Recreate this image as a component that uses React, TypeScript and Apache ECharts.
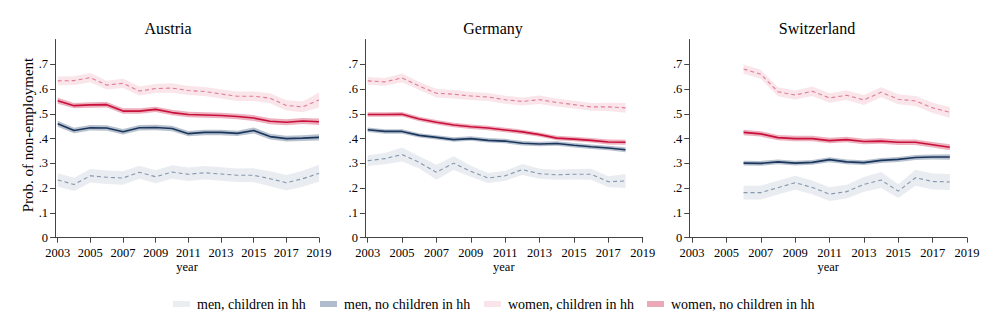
import React, { useEffect, useRef } from "react";
import * as echarts from "echarts";

const FONT = "Liberation Serif, Times New Roman, serif";

const countries = ["Austria", "Germany", "Switzerland"];
const seriesNames = ["men, children in hh", "men, no children in hh", "women, children in hh", "women, no children in hh"];
const xTickYears = [2003, 2005, 2007, 2009, 2011, 2013, 2015, 2017, 2019];
const yTicks = [0, 0.1, 0.2, 0.3, 0.4, 0.5, 0.6, 0.7];

// Austria 2003-2019
const atYears = [2003, 2004, 2005, 2006, 2007, 2008, 2009, 2010, 2011, 2012, 2013, 2014, 2015, 2016, 2017, 2018, 2019];
const atMenChild = [0.233, 0.215, 0.25, 0.244, 0.241, 0.264, 0.246, 0.265, 0.256, 0.262, 0.257, 0.252, 0.252, 0.238, 0.222, 0.238, 0.26];
const atMenChildCI = [0.027, 0.027, 0.027, 0.027, 0.027, 0.026, 0.026, 0.027, 0.027, 0.027, 0.027, 0.027, 0.028, 0.03, 0.031, 0.032, 0.034];
const atMenNo = [0.46, 0.433, 0.444, 0.443, 0.428, 0.444, 0.445, 0.441, 0.42, 0.425, 0.425, 0.421, 0.433, 0.408, 0.4, 0.402, 0.405];
const atMenNoCI = [0.012, 0.011, 0.011, 0.011, 0.011, 0.011, 0.011, 0.011, 0.011, 0.011, 0.011, 0.011, 0.012, 0.012, 0.012, 0.012, 0.013];
const atWomChild = [0.633, 0.634, 0.646, 0.616, 0.623, 0.592, 0.602, 0.604, 0.594, 0.59, 0.58, 0.571, 0.571, 0.563, 0.534, 0.528, 0.556];
const atWomChildCI = [0.018, 0.018, 0.019, 0.018, 0.019, 0.018, 0.018, 0.019, 0.018, 0.018, 0.018, 0.019, 0.019, 0.02, 0.021, 0.022, 0.03];
const atWomNo = [0.553, 0.533, 0.536, 0.537, 0.511, 0.511, 0.518, 0.505, 0.497, 0.495, 0.493, 0.489, 0.483, 0.47, 0.466, 0.471, 0.468];
const atWomNoCI = [0.012, 0.011, 0.011, 0.011, 0.011, 0.011, 0.011, 0.011, 0.011, 0.011, 0.011, 0.011, 0.012, 0.012, 0.012, 0.012, 0.013];

// Germany 2003-2018
const deYears = [2003, 2004, 2005, 2006, 2007, 2008, 2009, 2010, 2011, 2012, 2013, 2014, 2015, 2016, 2017, 2018];
const deMenChild = [0.311, 0.319, 0.336, 0.304, 0.264, 0.301, 0.268, 0.241, 0.25, 0.275, 0.258, 0.254, 0.256, 0.256, 0.226, 0.229];
const deMenChildCI = [0.022, 0.023, 0.028, 0.025, 0.03, 0.028, 0.022, 0.02, 0.02, 0.022, 0.02, 0.02, 0.021, 0.022, 0.022, 0.028];
const deMenNo = [0.436, 0.429, 0.429, 0.413, 0.405, 0.396, 0.4, 0.393, 0.39, 0.381, 0.378, 0.38, 0.373, 0.367, 0.362, 0.355];
const deMenNoCI = [0.009, 0.009, 0.009, 0.009, 0.009, 0.009, 0.009, 0.009, 0.009, 0.009, 0.009, 0.009, 0.009, 0.009, 0.009, 0.01];
const deWomChild = [0.633, 0.629, 0.645, 0.612, 0.583, 0.579, 0.572, 0.568, 0.557, 0.55, 0.557, 0.546, 0.537, 0.528, 0.528, 0.524];
const deWomChildCI = [0.016, 0.016, 0.018, 0.016, 0.017, 0.017, 0.016, 0.016, 0.016, 0.016, 0.017, 0.016, 0.016, 0.016, 0.017, 0.02];
const deWomNo = [0.497, 0.497, 0.498, 0.479, 0.466, 0.455, 0.448, 0.443, 0.435, 0.427, 0.416, 0.402, 0.398, 0.393, 0.386, 0.385];
const deWomNoCI = [0.009, 0.009, 0.009, 0.009, 0.009, 0.009, 0.009, 0.009, 0.009, 0.009, 0.009, 0.009, 0.009, 0.009, 0.01, 0.01];

// Switzerland 2006-2018
const chYears = [2006, 2007, 2008, 2009, 2010, 2011, 2012, 2013, 2014, 2015, 2016, 2017, 2018];
const chMenChild = [0.182, 0.182, 0.202, 0.222, 0.203, 0.176, 0.186, 0.215, 0.233, 0.188, 0.242, 0.227, 0.225];
const chMenChildCI = [0.028, 0.028, 0.028, 0.028, 0.028, 0.028, 0.028, 0.03, 0.032, 0.028, 0.032, 0.032, 0.032];
const chMenNo = [0.301, 0.3, 0.306, 0.301, 0.304, 0.315, 0.306, 0.303, 0.312, 0.316, 0.324, 0.326, 0.326];
const chMenNoCI = [0.01, 0.01, 0.01, 0.01, 0.01, 0.01, 0.01, 0.01, 0.01, 0.01, 0.01, 0.01, 0.011];
const chWomChild = [0.681, 0.66, 0.589, 0.576, 0.591, 0.564, 0.575, 0.556, 0.587, 0.559, 0.552, 0.524, 0.506];
const chWomChildCI = [0.018, 0.018, 0.018, 0.018, 0.019, 0.019, 0.019, 0.02, 0.02, 0.02, 0.02, 0.021, 0.022];
const chWomNo = [0.425, 0.419, 0.404, 0.4, 0.4, 0.392, 0.396, 0.388, 0.39, 0.385, 0.385, 0.375, 0.365];
const chWomNoCI = [0.011, 0.011, 0.011, 0.011, 0.011, 0.011, 0.011, 0.011, 0.011, 0.011, 0.011, 0.011, 0.012];

const panels = [
  { years: atYears, means: [atMenChild, atMenNo, atWomChild, atWomNo], cis: [atMenChildCI, atMenNoCI, atWomChildCI, atWomNoCI] },
  { years: deYears, means: [deMenChild, deMenNo, deWomChild, deWomNo], cis: [deMenChildCI, deMenNoCI, deWomChildCI, deWomNoCI] },
  { years: chYears, means: [chMenChild, chMenNo, chWomChild, chWomNo], cis: [chMenChildCI, chMenNoCI, chWomChildCI, chWomNoCI] },
];

const bandColors = ["rgba(132,151,173,0.18)", "rgba(40,70,110,0.33)", "rgba(226,125,150,0.2)", "rgba(200,16,60,0.33)"];
const legendColors = ["#eaedf1", "#b0bccb", "#f9e4ea", "#e9a9b8"];
const lineColors = ["#8497ad", "#1b365d", "#e27d96", "#c8103a"];
const lineDashed = [true, false, true, false];
const lineWidths = [1.1, 1.6, 1.1, 1.6];

// layout (pixels)
const gridLefts = [55.1, 364.95, 689.25];
const gridWidths = [263.9, 277.75, 277.75];
const titleX = [168, 493, 817];
const GRID_TOP = 39.5;
const GRID_H = 198.2;
const legendBoxX = [173, 320, 484, 647];

export default function App() {
  const ref = useRef<HTMLDivElement>(null);
  useEffect(() => {
    if (!ref.current) return;
    const chart = echarts.init(ref.current, null, { renderer: "svg" });

    const grids: any[] = [];
    const xAxes: any[] = [];
    const yAxes: any[] = [];
    const series: any[] = [];
    const graphics: any[] = [];

    panels.forEach((p, gi) => {
      grids.push({ left: gridLefts[gi], top: GRID_TOP, width: gridWidths[gi], height: GRID_H, containLabel: false });
      xAxes.push({
        type: "value",
        gridIndex: gi,
        min: 2002.84,
        max: 2019,
        axisLine: { show: true, lineStyle: { color: "#444", width: 1 } },
        axisTick: { show: true, length: 5, customValues: xTickYears, lineStyle: { color: "#444" } },
        axisLabel: { customValues: xTickYears, fontFamily: FONT, fontSize: 12.5, color: "#000", margin: 9, formatter: (v: number) => String(v) },
        splitLine: { show: false },
      });
      yAxes.push({
        type: "value",
        gridIndex: gi,
        min: 0,
        max: 0.8,
        interval: 0.1,
        axisLine: { show: true, lineStyle: { color: "#444", width: 1 } },
        axisTick: { show: true, length: 5, customValues: yTicks, lineStyle: { color: "#444" } },
        axisLabel: {
          customValues: yTicks,
          fontFamily: FONT,
          fontSize: 12.5,
          color: "#000",
          margin: 7,
          formatter: (v: number) => (Math.abs(v) < 1e-9 ? "0" : v.toFixed(1).replace(/^0/, "")),
        },
        splitLine: { show: false },
      });

      const order = [0, 2, 1, 3];
      order.forEach((si) => {
        const yrs = p.years;
        const m = p.means[si];
        const c = p.cis[si];
        series.push({
          type: "custom",
          name: seriesNames[si],
          xAxisIndex: gi,
          yAxisIndex: gi,
          itemStyle: { color: legendColors[si] },
          data: [[yrs[0], m[0]]],
          renderItem: (params: any, api: any) => {
            if (params.dataIndex !== 0) return null;
            const pts: number[][] = [];
            for (let i = 0; i < yrs.length; i++) pts.push(api.coord([yrs[i], m[i] + c[i]]));
            for (let i = yrs.length - 1; i >= 0; i--) pts.push(api.coord([yrs[i], m[i] - c[i]]));
            return { type: "polygon", shape: { points: pts }, style: { fill: bandColors[si] } };
          },
          z: 1,
          silent: true,
        });
      });
      order.forEach((si) => {
        series.push({
          type: "line",
          name: "line " + seriesNames[si],
          xAxisIndex: gi,
          yAxisIndex: gi,
          data: p.years.map((y, i) => [y, p.means[si][i]]),
          showSymbol: false,
          symbol: "none",
          lineStyle: { color: lineColors[si], width: lineWidths[si], type: lineDashed[si] ? [4, 3] : "solid" },
          z: 3,
          silent: true,
        });
      });

      graphics.push({
        type: "text",
        x: titleX[gi],
        y: 28,
        style: { text: countries[gi], font: `16px ${FONT}`, fill: "#000", align: "center", verticalAlign: "middle" },
      });
      graphics.push({
        type: "text",
        x: gridLefts[gi] + gridWidths[gi] / 2,
        y: 267,
        style: { text: "year", font: `12.5px ${FONT}`, fill: "#000", align: "center", verticalAlign: "middle" },
      });
    });

    graphics.push({
      type: "text",
      x: 28,
      y: 135,
      rotation: Math.PI / 2,
      style: { text: "Prob. of non-employment", font: `15px ${FONT}`, fill: "#000", align: "center", verticalAlign: "middle" },
    });

    seriesNames.forEach((n, i) => {
      graphics.push({ type: "rect", shape: { x: legendBoxX[i], y: 301, width: 17, height: 6 }, style: { fill: legendColors[i] } });
      graphics.push({
        type: "text",
        x: legendBoxX[i] + 24,
        y: 304.5,
        style: { text: n, font: `14px ${FONT}`, fill: "#000", align: "left", verticalAlign: "middle" },
      });
    });

    chart.setOption({
      animation: false,
      backgroundColor: "#fff",
      textStyle: { fontFamily: FONT },
      grid: grids,
      xAxis: xAxes,
      yAxis: yAxes,
      series,
      graphic: graphics,
    });
    return () => chart.dispose();
  }, []);
  return <div ref={ref} style={{ position: "fixed", left: 0, top: 0, width: 987, height: 329 }} />;
}
